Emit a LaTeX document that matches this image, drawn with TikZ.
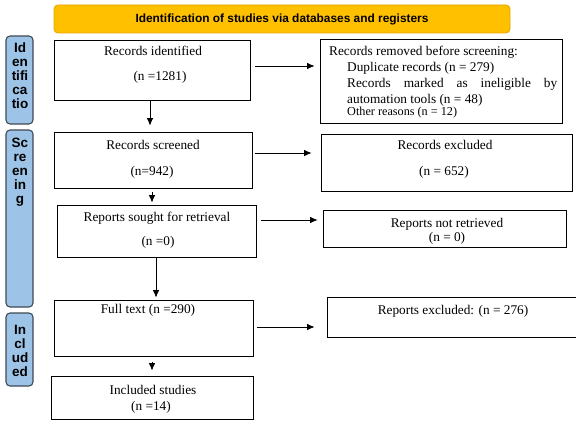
\documentclass[tikz,border=0pt]{standalone}
\usepackage{fontspec}
\setmainfont{Liberation Serif}
\newfontfamily\hdfont{Liberation Sans}
\usetikzlibrary{arrows.meta,calc}
\definecolor{barfill}{HTML}{9DC3E6}
\definecolor{bardraw}{HTML}{3E4A57}
\definecolor{hdfill}{HTML}{FFC000}
\definecolor{hddraw}{HTML}{E0A500}
\begin{document}
\begin{tikzpicture}[x=1pt,y=-1pt,
  box/.style={draw=black,line width=0.8pt,inner sep=0pt,fill=white},
  bar/.style={draw=bardraw,fill=barfill,line width=1.1pt,rounded corners=4pt,inner sep=0pt,minimum width=27pt},
  bartxt/.style={font=\hdfont\bfseries\fontsize{13.5}{14}\selectfont,align=center,inner sep=0pt},
  txt/.style={font=\fontsize{13.3}{15}\selectfont,inner sep=0pt,text height=8pt,text depth=0pt},
  arr/.style={-{Latex[length=7.5pt,width=6.5pt]},line width=0.8pt}]
\useasboundingbox (0,0) rectangle (576,428);
\clip (0,0) rectangle (576,428);
\fill[white] (0,0) rectangle (576,428);

% header
\node[draw=hddraw,fill=hdfill,line width=0.8pt,rounded corners=4pt,minimum width=456pt,minimum height=28pt,inner sep=0pt,font=\hdfont\bfseries\fontsize{11.9}{14}\selectfont] (hd) at (282,19) {Identification of studies via databases and registers};

% side bars
\node[bar,minimum height=88pt] (idb) at (19.5,80) {};
\node[bar,minimum height=177pt] (scb) at (19.5,218.5) {};
\node[bar,minimum height=73pt] (inb) at (19.5,349.5) {};
\node[bartxt] (idt) at (20,76) {Id\\en\\tifi\\ca\\tio};
\node[bartxt] (sct) at (20,172) {Sc\\re\\en\\in\\g};
\node[bartxt] (inbt) at (20,350.5) {In\\cl\\ud\\ed};

% boxes
\node[box,minimum width=196pt,minimum height=60pt] (ri) at (152,70) {};
\node[box,minimum width=242pt,minimum height=84pt] (rm) at (441,81) {};
\node[box,minimum width=198pt,minimum height=56pt] (rs) at (153,160) {};
\node[box,minimum width=251pt,minimum height=57pt] (rx) at (446.5,162.5) {};
\node[box,minimum width=199pt,minimum height=52pt] (rsr) at (156.5,231) {};
\node[box,minimum width=243pt,minimum height=37pt] (rnr) at (444.5,228.5) {};
\node[box,minimum width=199pt,minimum height=56pt] (ft) at (153.5,328) {};
\node[box,minimum width=273pt,minimum height=40pt] (rex) at (463.5,317) {};
\node[box,minimum width=202pt,minimum height=43pt] (inc) at (152,397.5) {};

% texts
\node[txt] (ri1) at (153,52) {Records identified};
\node[txt] (ri2) at (160,77) {(n =1281)};
\node[txt,anchor=west] (rm1) at (329,52) {Records removed before screening:};
\node[txt,anchor=west] (rm2) at (347,67) {Duplicate records (n = 279)};
\node[txt,anchor=west] (rm3) at (347,84) {\makebox[210pt][s]{Records marked as ineligible by}};
\node[txt,anchor=west] (rm4) at (347,99) {automation tools (n = 48)};
\node[txt,anchor=west,font=\fontsize{12.2}{14}\selectfont] (rm5) at (347,111) {Other reasons (n = 12)};
\node[txt] (rs1) at (153,145) {Records screened};
\node[txt] (rs2) at (152,171) {(n=942)};
\node[txt] (rx1) at (445,145) {Records excluded};
\node[txt] (rx2) at (444,171) {(n = 652)};
\node[txt] (rsr1) at (157,217) {Reports sought for retrieval};
\node[txt] (rsr2) at (158,241) {(n =0)};
\node[txt] (rnr1) at (447,223) {Reports not retrieved};
\node[txt] (rnr2) at (447,237) {(n = 0)};
\node[txt] (ft1) at (148,309) {Full text (n =290)};
\node[txt] (rex1) at (453,310) {Reports excluded: (n = 276)};
\node[txt] (inc1) at (153,390) {Included studies};
\node[txt] (inc2) at (151,406) {(n =14)};

% vertical arrows
\draw[arr] ($(ri.south)+(-2pt,0)$) -- ($(ri.south |- rs.north)+(-2pt,6pt)$);
\draw[arr] ($(rs.south)+(-1pt,-4pt)$) -- ($(rs.south |- rsr.north)+(-1pt,2pt)$);
\draw[arr] ($(rsr.south)+(-0.5pt,0)$) -- ($(rsr.south |- ft.north)+(-0.5pt,2pt)$);
\draw[arr] ($(ft.south)+(-1.5pt,-6pt)$) -- ($(ft.south |- inc.north)+(-1.5pt,5pt)$);

% horizontal arrows
\draw[arr] ($(ri.east)+(5pt,4pt)$) -- ($(ri.east -| rm.west)+(-5pt,4pt)$);
\draw[arr] ($(rs.east)+(3pt,7pt)$) -- ($(rs.east -| rx.west)+(-9pt,7pt)$);
\draw[arr] ($(rsr.east)+(5pt,11pt)$) -- ($(rsr.east -| rnr.west)+(-5pt,11pt)$);
\draw[arr] ($(ft.east)+(4pt,1pt)$) -- ($(ft.east -| rex.west)+(-12pt,1pt)$);
\end{tikzpicture}
\end{document}
